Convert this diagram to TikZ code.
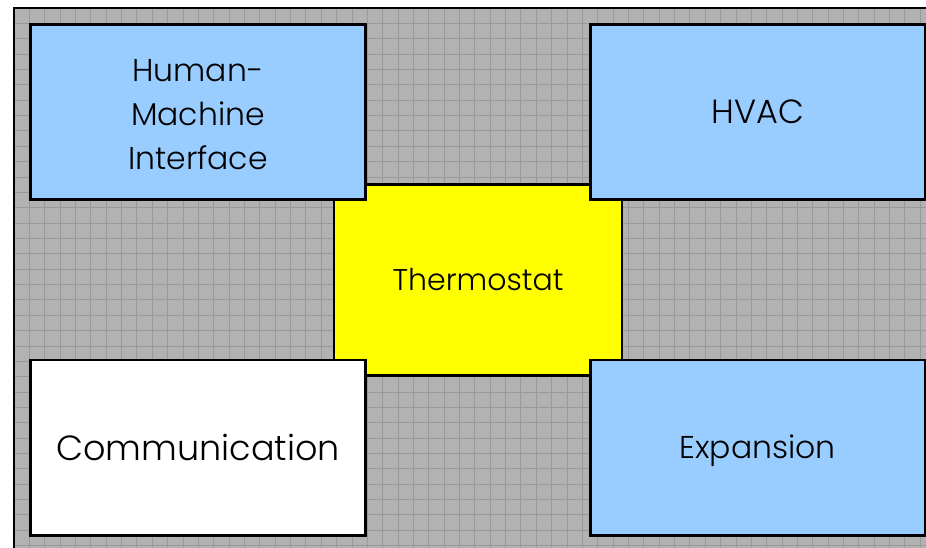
\documentclass[tikz,border=0pt]{standalone}
\usepackage{fontspec}
\setmainfont{Poppins Light}
\definecolor{panelgray}{HTML}{B2B2B2}
\definecolor{gridgray}{HTML}{999999}
\definecolor{skyblue}{HTML}{99CCFF}
\definecolor{thermoyellow}{HTML}{FFFF00}
\tikzset{
  block/.style={draw=black, line width=2.4pt, inner sep=0pt, outer sep=0pt,
    align=center, text=black, font=\fontsize{30}{44}\selectfont},
  % label box: height above the (last) baseline, nothing below
  oneline/.style={text height=#1, text depth=0pt},
  bluebox/.style={block, fill=skyblue, minimum width=335pt, minimum height=175pt},
  gridline/.style={draw=gridgray, line width=0.8pt},
}
\begin{document}
\begin{tikzpicture}[x=1pt,y=-1pt]
  \useasboundingbox (0,0) rectangle (926,548);
  \clip (0,0) rectangle (926,548);
  % grey drawing area with its fine grid
  \fill[panelgray] (14,8) rectangle (940,560);
  \foreach \k in {1,...,60} {
    \draw[gridline] ({14+15.36*\k},8) -- ({14+15.36*\k},560);
  }
  \foreach \k in {1,...,36} {
    \draw[gridline] (14,{8+15.36*\k}) -- (940,{8+15.36*\k});
  }
  \draw[line width=2.4pt] (14,560) -- (14,8) -- (940,8);
  % central block, drawn first so the corner blocks overlap it
  \node[block, oneline=21pt, fill=thermoyellow, minimum width=288pt, minimum height=191pt]
    (thermostat) at (478,280) {Thermostat};
  % corner blocks
  \node[bluebox, oneline=116pt, font=\fontsize{31.5}{44}\selectfont]
    (hmi) at (198,112)
    {\begin{tabular}[b]{@{}c@{}}Human-\\Machine\\Interface\end{tabular}};
  \node[bluebox, oneline=23.5pt, minimum width=334.5pt, font=\fontsize{33.5}{44}\selectfont]
    (hvac) at (757.75,112) {HVAC};
  \node[bluebox, oneline=24.5pt, fill=white, minimum height=175.5pt,
        font=\fontsize{35}{44}\selectfont]
    (comm) at (198,447.75) {Communication};
  \node[bluebox, oneline=22pt, minimum width=334.5pt, minimum height=175.5pt,
        font=\fontsize{31.5}{44}\selectfont]
    (expansion) at (757.75,447.75) {Expansion};
\end{tikzpicture}
\end{document}
